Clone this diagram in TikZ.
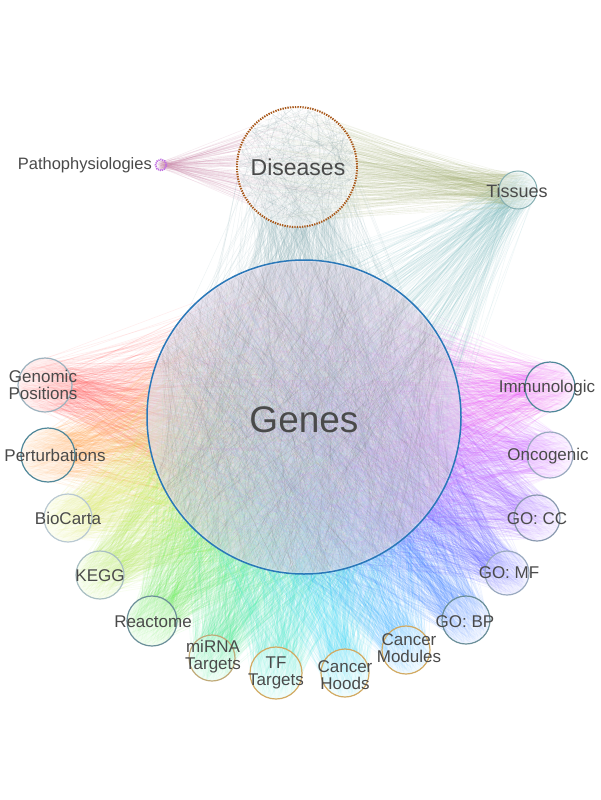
\documentclass[tikz,border=0pt]{standalone}
\usepackage{fontspec}
\setmainfont{Liberation Sans}
\usetikzlibrary{calc}
\definecolor{txt}{HTML}{4A4A4A}
\definecolor{cRed}{HTML}{FF5050}
\definecolor{cOrange}{HTML}{FFA040}
\definecolor{cYellow}{HTML}{E0F060}
\definecolor{cLime}{HTML}{B0F050}
\definecolor{cGreen}{HTML}{60F050}
\definecolor{cSpring}{HTML}{40F090}
\definecolor{cAqua}{HTML}{40F0D0}
\definecolor{cCyan}{HTML}{40E0F8}
\definecolor{cSky}{HTML}{40B8FF}
\definecolor{cBlue}{HTML}{3C82FF}
\definecolor{cIndigo}{HTML}{6060FF}
\definecolor{cViolet}{HTML}{A060FF}
\definecolor{cPurple}{HTML}{D060FF}
\definecolor{cMagenta}{HTML}{F040F8}
\definecolor{oPale}{HTML}{9DB3BF}
\definecolor{oTeal}{HTML}{4F8799}
\definecolor{oLight}{HTML}{B9C9D2}
\definecolor{oGray}{HTML}{A9BFC3}
\definecolor{oMid}{HTML}{6B8F99}
\definecolor{oTan}{HTML}{C0AA78}
\definecolor{oGold}{HTML}{D2AA62}
\definecolor{oBlueGray}{HTML}{9AAAC0}
\definecolor{oSteel}{HTML}{8A9AB0}
\definecolor{geneBlue}{HTML}{2A78B8}
\definecolor{disBrown}{HTML}{A8581A}
\definecolor{tealEdge}{HTML}{8AB0B6}
\definecolor{tisEdge}{HTML}{88C4C8}
\definecolor{oliveEdge}{HTML}{A8B478}
\definecolor{pinkEdge}{HTML}{D090B0}
\definecolor{genFill}{HTML}{DED8EA}
\definecolor{patPurple}{HTML}{C070E0}
\newcommand{\fanlines}[8]{%
  \foreach \k in {1,...,#5}{%
    \pgfmathsetmacro{\aa}{360*rnd}%
    \pgfmathsetmacro{\ra}{#2*sqrt(rnd)}%
    \pgfmathsetmacro{\ab}{360*rnd}%
    \pgfmathsetmacro{\rb}{#4*sqrt(rnd)}%
    \draw[draw=#6, line width=#7, draw opacity=#8] ($(#1)+(\aa:\ra)$) -- ($(#3)+(\ab:\rb)$);
  }}
\tikzset{
  sat/.style={circle, inner sep=0pt, line width=1.2pt, fill opacity=0.55},
  lbl/.style={text=txt, align=center, inner sep=0pt, font=\fontsize{17}{17}\selectfont},
}
\begin{document}
\begin{tikzpicture}[x=1pt,y=-1pt]
\pgfmathsetseed{4242}
\useasboundingbox (0,0) rectangle (600,800);
\fill[white] (0,0) rectangle (600,800);
% group centres
\coordinate (G) at (304,417);
\coordinate (D) at (297,167);
\coordinate (T) at (518,190);
\coordinate (P) at (161,165);
\def\satlist{gp/45/385/27/cRed/oPale,
  pe/48/455/27/cOrange/oTeal,
  bc/68/518/24/cYellow/oLight,
  kg/100/575/24/cLime/oGray,
  re/152/621/25/cGreen/oMid,
  mi/212/658/23/cSpring/oTan,
  tf/276/673/26/cAqua/oGold,
  ch/345/673/24/cCyan/oGold,
  cm/406/650/24/cSky/oGold,
  bp/466/620/24/cBlue/oMid,
  mf/507/573/22/cIndigo/oBlueGray,
  cc/537/518/23/cViolet/oSteel,
  on/550/455/23/cPurple/oBlueGray,
  im/550/387/25/cMagenta/oTeal}
\foreach \n/\x/\y/\r/\c/\o in \satlist {\coordinate (\n) at (\x,\y);}
% fans from the gene-set groups to Genes
\foreach \n/\x/\y/\r/\c/\o in \satlist {\fanlines{\n}{\r}{G}{152}{360}{\c}{0.6pt}{0.09}}
% Diseases and Tissues to Genes
\fanlines{D}{58}{G}{150}{480}{tealEdge}{0.4pt}{0.16}
\fanlines{T}{18}{G}{150}{260}{tisEdge}{0.4pt}{0.16}
% Genes group
\fill[genFill, fill opacity=0.6] (G) circle (157);
\foreach \k in {1,...,500}{%
  \pgfmathsetmacro{\aa}{-90+70*rand}%
  \pgfmathsetmacro{\ab}{90+70*rand}%
  \draw[line width=0.3pt, draw=gray!80!black, draw opacity=0.1] ($(G)+(\aa:155)$) -- ($(G)+(\ab:155)$);
}
\node[circle, minimum size=314pt, inner sep=0pt, draw=geneBlue, line width=1.5pt] (genes) at (G) {};
% Tissues and Pathophysiologies to Diseases
\fanlines{T}{18}{D}{58}{260}{oliveEdge}{0.4pt}{0.16}
\fanlines{P}{4}{D}{58}{100}{pinkEdge}{0.4pt}{0.22}
% Diseases group
\fill[white, fill opacity=0.6] (D) circle (60);
\foreach \k in {1,...,130}{%
  \pgfmathsetmacro{\aa}{360*rnd}%
  \pgfmathsetmacro{\ab}{\aa+60+240*rnd}%
  \draw[line width=0.3pt, draw=tealEdge!80!black, draw opacity=0.16] ($(D)+(\aa:58)$) -- ($(D)+(\ab:58)$);
}
\node[circle, minimum size=120pt, inner sep=0pt, draw=disBrown, line width=2pt, dash pattern=on 1.4pt off 1.1pt] (dis) at (D) {};
% Tissues & Pathophysiologies nodes
\node[sat, minimum size=38pt, draw=tisEdge!70!gray, fill=tisEdge!20!white, line width=1pt] (tis) at (T) {};
\node[circle, minimum size=11pt, inner sep=0pt, draw=patPurple, line width=1.8pt, dash pattern=on 1.2pt off 0.8pt] (pat) at (P) {};
% satellite circles
\foreach \n/\x/\y/\r/\c/\o in \satlist {
  \node[sat, minimum size=2*\r pt, draw=\o, fill=\c!18!white, fill opacity=0.45] (\n-c) at (\n) {};
}
% labels
\node[text=txt, inner sep=0pt, font=\fontsize{37}{37}\selectfont] (gl) at (304,420) {Genes};
\node[text=txt, inner sep=0pt, font=\fontsize{23}{23}\selectfont] (dl) at (298,167) {Diseases};
\node[lbl, font=\fontsize{18}{18}\selectfont] (tl) at (517,191) {Tissues};
\node[lbl, font=\fontsize{16.5}{16.5}\selectfont, anchor=east] (pl) at (152,165) {Pathophysiologies};
\node[lbl] (gpl) at (43,385) {Genomic\\Positions};
\node[lbl] (pel) at (55,455) {Perturbations};
\node[lbl] (bcl) at (68,518) {BioCarta};
\node[lbl] (kgl) at (100,576) {KEGG};
\node[lbl] (rel) at (153,622) {Reactome};
\node[lbl] (mil) at (213,657) {miRNA\\Targets};
\node[lbl] (tfl) at (276,673) {TF\\Targets};
\node[lbl] (chl) at (345,675) {Cancer\\Hoods};
\node[lbl] (cml) at (409,648) {Cancer\\Modules};
\node[lbl] (bpl) at (465,622) {GO: BP};
\node[lbl] (mfl) at (509,573) {GO: MF};
\node[lbl] (ccl) at (537,519) {GO: CC};
\node[lbl] (onl) at (548,456) {Oncogenic};
\node[lbl] (iml) at (547,388) {Immunologic};
\end{tikzpicture}
\end{document}
